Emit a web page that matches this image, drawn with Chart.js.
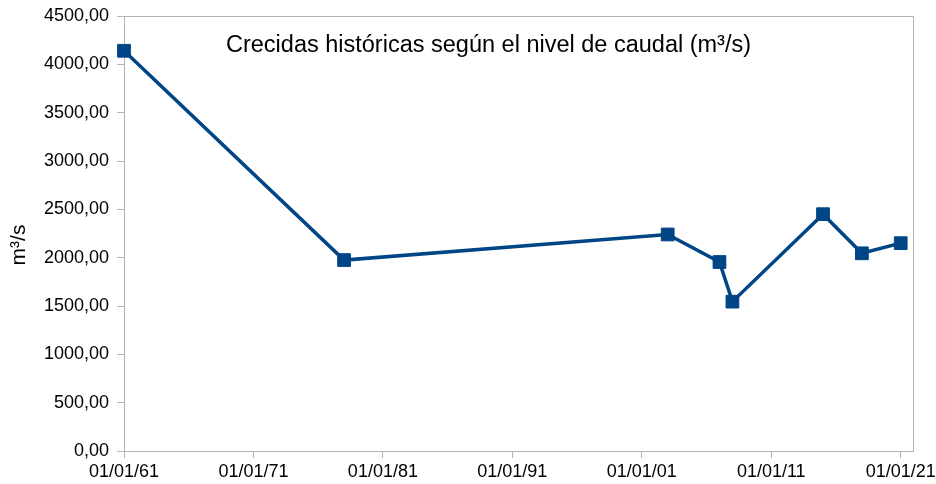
<!DOCTYPE html>
<html>
<head>
<meta charset="utf-8">
<script src="https://cdn.jsdelivr.net/npm/chart.js@4/dist/chart.umd.min.js"></script>
<style>
  html, body { margin: 0; padding: 0; background: #ffffff; }
  #wrap { width: 936px; height: 484px; position: relative; }
</style>
</head>
<body>
<div id="wrap"><canvas id="c" width="936" height="484"></canvas></div>
<script>
// Data (x as decimal years, dates shown as dd/mm/yy)
const chartTitle = 'Crecidas históricas según el nivel de caudal (m³/s)';
const yAxisTitle = 'm³/s';
const years = [1961, 1978, 2003, 2007, 2008, 2015, 2018, 2021];
const caudal = [4140, 1975, 2240, 1955, 1545, 2450, 2045, 2150];
const xTickYears = [1961, 1971, 1981, 1991, 2001, 2011, 2021];
const yTickValues = [0, 500, 1000, 1500, 2000, 2500, 3000, 3500, 4000, 4500];

const LINE = '#004586';
const AXIS = '#b3b3b3';
const FONT = '"Liberation Sans", Arial, sans-serif';

const points = years.map((y, i) => ({ x: y, y: caudal[i] }));

const frameAndTitle = {
  id: 'frameAndTitle',
  beforeDatasetsDraw(chart) {
    const { ctx, chartArea: a } = chart;
    ctx.save();
    ctx.strokeStyle = AXIS;
    ctx.lineWidth = 1;
    ctx.beginPath();
    ctx.moveTo(Math.round(a.left) + 0.5, Math.round(a.top) + 0.5);
    ctx.lineTo(Math.round(a.right) + 0.5, Math.round(a.top) + 0.5);
    ctx.lineTo(Math.round(a.right) + 0.5, Math.round(a.bottom) + 0.5);
    ctx.stroke();
    ctx.restore();
  },
  afterDraw(chart) {
    const { ctx } = chart;
    ctx.save();
    ctx.fillStyle = '#000000';
    ctx.font = '23.5px ' + FONT;
    ctx.textAlign = 'center';
    ctx.textBaseline = 'alphabetic';
    ctx.fillText(chartTitle, 488.5, 52);
    // rotated y-axis title
    ctx.translate(25, 245);
    ctx.rotate(-Math.PI / 2);
    ctx.font = '21px ' + FONT;
    ctx.textAlign = 'center';
    ctx.textBaseline = 'alphabetic';
    ctx.fillText(yAxisTitle, 0, 0);
    ctx.restore();
  }
};

new Chart(document.getElementById('c'), {
  type: 'line',
  data: {
    datasets: [{
      data: points,
      borderColor: LINE,
      backgroundColor: LINE,
      borderWidth: 3.5,
      pointStyle: 'rect',
      pointRadius: 9,
      pointBorderWidth: 1,
      pointBorderColor: LINE,
      pointBackgroundColor: LINE,
      tension: 0,
      clip: false
    }]
  },
  options: {
    responsive: false,
    animation: false,
    devicePixelRatio: 1,
    layout: { padding: { top: 16, right: 23, left: 0, bottom: 0 } },
    plugins: {
      legend: { display: false },
      tooltip: { enabled: false },
      title: { display: false }
    },
    scales: {
      x: {
        type: 'linear',
        min: 1961,
        max: 2021.95,
        afterBuildTicks(scale) { scale.ticks = xTickYears.map(v => ({ value: v })); },
        afterFit(scale) { scale.height = 33; scale.paddingLeft = 0; scale.paddingRight = 0; },
        ticks: {
          autoSkip: false,
          maxRotation: 0,
          padding: 3,
          color: '#000000',
          font: { family: FONT, size: 18 },
          callback: (v) => '01/01/' + String(v).slice(2)
        },
        grid: { drawOnChartArea: false, drawTicks: true, tickLength: 7, color: AXIS },
        border: { display: true, color: AXIS }
      },
      y: {
        min: 0,
        max: 4500,
        afterBuildTicks(scale) { scale.ticks = yTickValues.map(v => ({ value: v })); },
        afterFit(scale) { scale.width = 124; scale.paddingTop = 0; scale.paddingBottom = 0; },
        ticks: {
          padding: 8,
          color: '#000000',
          font: { family: FONT, size: 18 },
          callback: (v) => Number(v).toFixed(2).replace('.', ',')
        },
        grid: { drawOnChartArea: false, drawTicks: true, tickLength: 7, color: AXIS },
        border: { display: true, color: AXIS },
        title: { display: false }
      }
    }
  },
  plugins: [frameAndTitle]
});
</script>
</body>
</html>
